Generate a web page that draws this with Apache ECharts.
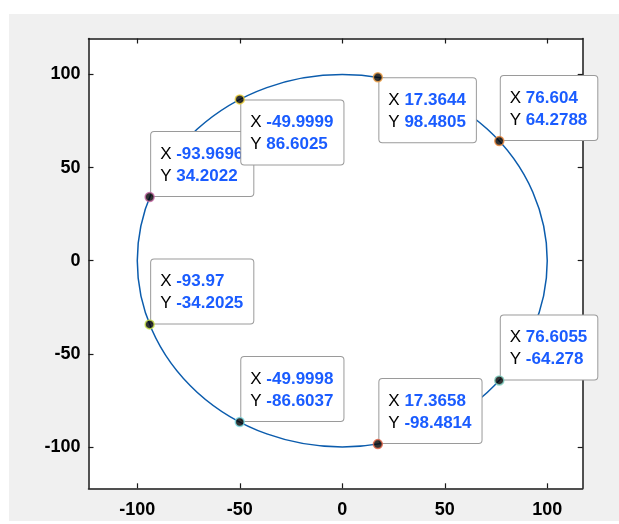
<!DOCTYPE html>
<html>
<head>
<meta charset="utf-8">
<script src="https://cdn.jsdelivr.net/npm/echarts@6/dist/echarts.min.js"></script>
<style>
html,body{margin:0;padding:0;background:#fff;}
#chart{width:619px;height:524px;}
</style>
</head>
<body>
<div id="chart"></div>
<script>
// ---- data ----
const circleCenter = [0, 0];
const circleRadius = 100;
const tipX = [17.3644, 76.604, -93.9696, -49.9999, -93.97, -49.9998, 17.3658, 76.6055];
const tipY = [98.4805, 64.2788, 34.2022, 86.6025, -34.2025, -86.6037, -98.4814, -64.278];
const tipXText = ['17.3644', '76.604', '-93.9696', '-49.9999', '-93.97', '-49.9998', '17.3658', '76.6055'];
const tipYText = ['98.4805', '64.2788', '34.2022', '86.6025', '-34.2025', '-86.6037', '-98.4814', '-64.278'];
const xTicks = [-100, -50, 0, 50, 100];
const yTicks = [-100, -50, 0, 50, 100];

// ---- styles / layout ----
const tipPlacement = ['below', 'above', 'above', 'below', 'above', 'above', 'above', 'above'];
const tipMarkerColors = ['#f3a248', '#ef8a3c', '#c76aa6', '#efd23a', '#c9e24a', '#7fe0e8', '#e5664a', '#7fcfc0'];
const xRange = [-123.8, 117.3];
const yRange = [-122.2, 119.3];
const FONT = '"Liberation Sans", Arial, Helvetica, sans-serif';

const chart = echarts.init(document.getElementById('chart'), null, {renderer: 'canvas'});

function axisCommon(show) {
  return {
    type: 'value',
    axisLine: {show: true, onZero: false, lineStyle: {color: '#1a1a1a', width: 1.5}},
    axisTick: {show: true, inside: true, length: 5, customValues: null, lineStyle: {color: '#1a1a1a', width: 1.2}},
    splitLine: {show: false},
    axisLabel: {show: show, color: '#000', fontSize: 18, fontFamily: FONT, fontWeight: 'bold'}
  };
}

function mkX(pos, show) {
  const a = axisCommon(show);
  a.position = pos; a.min = xRange[0]; a.max = xRange[1];
  a.axisTick.customValues = xTicks;
  a.axisLabel.customValues = xTicks;
  a.axisLabel.margin = 13;
  return a;
}
function mkY(pos, show) {
  const a = axisCommon(show);
  a.position = pos; a.min = yRange[0]; a.max = yRange[1];
  a.axisTick.customValues = yTicks;
  a.axisLabel.customValues = yTicks;
  a.axisLabel.margin = 8;
  return a;
}

const tipData = tipX.map((x, i) => [x, tipY[i], i]);

const option = {
  backgroundColor: '#f0f0f0',
  animation: false,
  graphic: [
    {type: 'rect', shape: {x: 0, y: 0, width: 619, height: 14}, style: {fill: '#fff'}, z: -10, silent: true},
    {type: 'rect', shape: {x: 0, y: 0, width: 9, height: 524}, style: {fill: '#fff'}, z: -10, silent: true},
    {type: 'rect', shape: {x: 0, y: 521, width: 619, height: 3}, style: {fill: '#fff'}, z: -10, silent: true}
  ],
  grid: {left: 88.5, top: 38.5, width: 494.2, height: 449.8, show: true, backgroundColor: '#fff', borderWidth: 0, containLabel: false},
  xAxis: [mkX('bottom', true), mkX('top', false)],
  yAxis: [mkY('left', true), mkY('right', false)],
  series: [
    {
      type: 'custom',
      coordinateSystem: 'cartesian2d',
      z: 2,
      silent: true,
      data: [[circleCenter[0], circleCenter[1], circleRadius]],
      renderItem: function (params, api) {
        const c = api.coord([api.value(0), api.value(1)]);
        const s = api.size([api.value(2), api.value(2)]);
        const rx = s[0], ry = s[1];
        return {
          type: 'circle',
          x: c[0], y: c[1],
          scaleX: 1, scaleY: ry / rx,
          shape: {cx: 0, cy: 0, r: rx},
          style: {fill: 'none', stroke: '#0b5cad', lineWidth: 1.5, strokeNoScale: true}
        };
      }
    },
    {
      type: 'custom',
      coordinateSystem: 'cartesian2d',
      z: 3,
      silent: true,
      data: tipData,
      renderItem: function (params, api) {
        const i = api.value(2);
        const p = api.coord([api.value(0), api.value(1)]);
        const below = tipPlacement[i] === 'below';
        return {
          type: 'text',
          x: p[0] + 1.5,
          y: p[1] + (below ? 1 : -1),
          style: {
            text: '{k|X} {v|' + tipXText[i] + '}\n{k|Y} {v|' + tipYText[i] + '}',
            rich: {
              k: {fontSize: 17, fill: '#000', fontFamily: FONT, lineHeight: 22},
              v: {fontSize: 17, fill: '#1a5cff', fontWeight: 'bold', fontFamily: FONT, lineHeight: 22}
            },
            fill: '#000',
            font: '17px ' + FONT,
            lineHeight: 22,
            align: 'left',
            verticalAlign: below ? 'top' : 'bottom',
            backgroundColor: '#fff',
            borderColor: '#9a9a9a',
            borderWidth: 1,
            borderRadius: 3,
            padding: [11, 10, 9, 9]
          }
        };
      }
    },
    {
      type: 'scatter',
      z: 4,
      silent: true,
      symbolSize: 9,
      data: tipX.map((x, i) => ({
        value: [x, tipY[i]],
        itemStyle: {color: '#000', borderColor: tipMarkerColors[i], borderWidth: 1.5}
      }))
    }
  ]
};
chart.setOption(option);
</script>
</body>
</html>
